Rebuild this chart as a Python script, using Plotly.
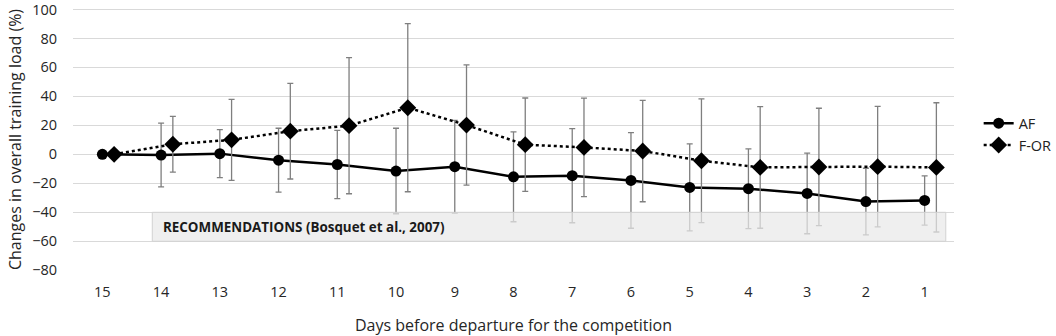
import plotly.graph_objects as go

days = ["15", "14", "13", "12", "11", "10", "9", "8", "7", "6", "5", "4", "3", "2", "1"]
af_values = [0, -0.5, 0.5, -4, -7, -11.5, -8.5, -15.5, -14.7, -18, -22.8, -23.7, -27, -32.6, -31.8]
af_sd = [0, 22, 16.5, 22, 23.5, 29.5, 32, 31, 32.5, 33, 30, 27.5, 27.8, 23, 17]
for_values = [0, 7, 10, 16, 19.8, 32.2, 20.2, 6.7, 4.8, 2.3, -4.4, -9, -8.7, -8.5, -9]
for_sd = [0, 19.2, 28, 33, 47, 58, 41.5, 32.2, 34, 35, 42.7, 42, 40.5, 41.6, 44.6]
y_ticks = [-80, -60, -40, -20, 0, 20, 40, 60, 80, 100]
box_label = "RECOMMENDATIONS (Bosquet et al., 2007)"
box_range = (-60, -40)

FONT = "Open Sans"
TXT = "#262626"
idx = list(range(len(days)))
offset = 0.2

fig = go.Figure()
fig.add_trace(go.Scatter(
    x=idx, y=af_values, name="AF", mode="lines+markers",
    line=dict(color="black", width=2.5),
    marker=dict(symbol="circle", size=11, color="black"),
    error_y=dict(type="data", array=af_sd, visible=True, color="#7f7f7f", thickness=1.3, width=3),
))
fig.add_trace(go.Scatter(
    x=[i + offset for i in idx], y=for_values, name="F-OR", mode="lines+markers",
    line=dict(color="black", width=2.5, dash="dot"),
    marker=dict(symbol="diamond", size=13, color="black"),
    error_y=dict(type="data", array=for_sd, visible=True, color="#7f7f7f", thickness=1.3, width=3),
))

fig.add_shape(type="rect", xref="x", yref="y", x0=0.85, x1=14.36, y0=box_range[0], y1=box_range[1],
              fillcolor="rgba(233,233,233,0.72)", line=dict(color="#d2d2d2", width=1), layer="above")
fig.add_annotation(x=0.99, y=sum(box_range) / 2, xref="x", yref="y", text="<b>" + box_label + "</b>",
                   showarrow=False, xanchor="left", yanchor="middle",
                   font=dict(family=FONT, size=13.4, color="#1a1a1a"))

fig.update_layout(
    width=1056, height=336,
    margin=dict(l=73, r=102, t=8, b=65, autoexpand=False),
    paper_bgcolor="white", plot_bgcolor="white",
    font=dict(family=FONT, color=TXT),
    showlegend=True,
    legend=dict(x=1.028, y=0.52, xanchor="left", yanchor="middle",
                font=dict(family=FONT, size=14.5, color="#222222"),
                itemwidth=30, tracegroupgap=0, bgcolor="rgba(0,0,0,0)"),
)
fig.update_xaxes(
    range=[-0.5, 14.5], tickmode="array", tickvals=idx, ticktext=days,
    showgrid=False, zeroline=False, showline=False, automargin=False,
    ticks="outside", ticklen=8, tickcolor="rgba(0,0,0,0)",
    tickfont=dict(family=FONT, size=14.5, color=TXT),
    title=dict(text="Days before departure for the competition", standoff=19,
               font=dict(family=FONT, size=16, color=TXT)),
)
fig.update_yaxes(
    range=[-80.5, 101], tickmode="array", tickvals=y_ticks,
    showgrid=True, gridcolor="#d9d9d9", gridwidth=1, zeroline=False, showline=False, automargin=False,
    ticks="outside", ticklen=12, tickcolor="rgba(0,0,0,0)", ticklabeloverflow="allow",
    tickfont=dict(family=FONT, size=14.5, color=TXT),
    title=dict(text="Changes in overall training load (%)", standoff=6,
               font=dict(family=FONT, size=16, color=TXT)),
)

fig.write_html("out.html", config={"displayModeBar": False},
               post_script="document.body.style.margin='0';")
